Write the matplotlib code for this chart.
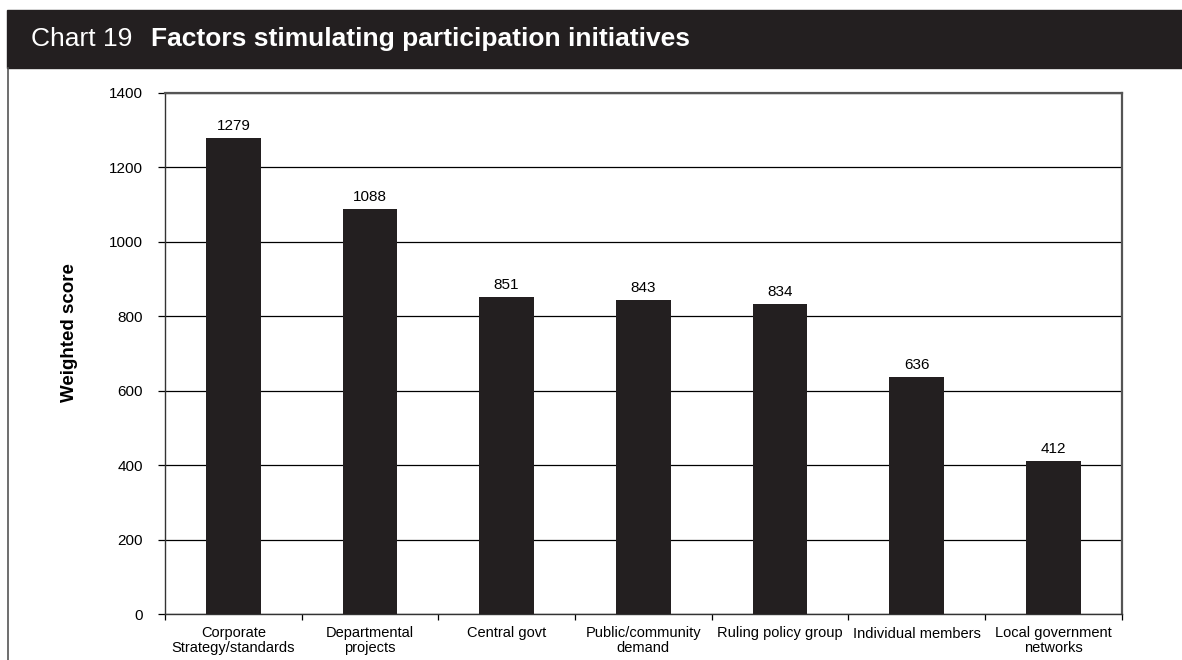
import matplotlib
matplotlib.use("Agg")
import matplotlib.pyplot as plt
from matplotlib.patches import Rectangle
from matplotlib.lines import Line2D

categories = [
    "Corporate\nStrategy/standards",
    "Departmental\nprojects",
    "Central govt",
    "Public/community\ndemand",
    "Ruling policy group",
    "Individual members",
    "Local government\nnetworks",
]
scores = [1279, 1088, 851, 843, 834, 636, 412]
y_ticks = [0, 200, 400, 600, 800, 1000, 1200, 1400]

_DARK = "#231f20"

plt.rcParams["font.family"] = ["Liberation Sans", "DejaVu Sans"]

W, H = 1182, 660
fig = plt.figure(figsize=(W / 100, H / 100), dpi=100)

# header band and panel border
fig.patches.append(Rectangle((7 / W, 1 - 68 / H), 1 - 7 / W, 58 / H,
                             transform=fig.transFigure, color=_DARK, zorder=0))
fig.lines.append(Line2D([7.5 / W, 7.5 / W], [0, 1 - 68 / H],
                        transform=fig.transFigure, color="#555555", lw=1.2))
fig.text(31 / W, 1 - 39 / H, "Chart 19", color="white", fontsize=19,
         va="center", ha="left")
fig.text(151 / W, 1 - 39 / H, "Factors stimulating participation initiatives",
         color="white", fontsize=19, fontweight="bold", va="center", ha="left")

ax = fig.add_axes([165 / W, 1 - 614 / H, (1121.5 - 165) / W, (614 - 93) / H])
x = range(len(categories))
bars = ax.bar(x, scores, width=0.40, color=_DARK, zorder=3)
ax.bar_label(bars, labels=[str(v) for v in scores], padding=3.5, fontsize=11)

ax.set_xlim(-0.5, len(categories) - 0.5)
ax.set_ylim(0, 1400)
ax.set_yticks(y_ticks)
ax.set_yticklabels([str(t) for t in y_ticks], fontsize=11)
ax.yaxis.grid(True, color="black", lw=0.9, zorder=1)
ax.set_axisbelow(True)

# category labels centred under bars, ticks at category boundaries
ax.set_xticks(list(x))
ax.set_xticklabels(categories, fontsize=10.5, linespacing=1.05)
ax.tick_params(axis="x", length=0, pad=9)
ax.set_xticks([i - 0.5 for i in range(len(categories) + 1)], minor=True)
ax.tick_params(axis="x", which="minor", length=4, width=0.9, direction="out")
ax.tick_params(axis="y", length=5, width=0.9, direction="out", pad=11)

for s in ax.spines.values():
    s.set_color("#333333")
    s.set_linewidth(1.0)
for side in ("right", "top"):
    ax.spines[side].set_color("#555555")
    ax.spines[side].set_linewidth(1.6)

ax.set_ylabel("Weighted score", fontsize=13.5, fontweight="bold")
ax.yaxis.set_label_coords(-87 / (1121.5 - 165), 0.54)

fig.savefig("out.png", dpi=100)
